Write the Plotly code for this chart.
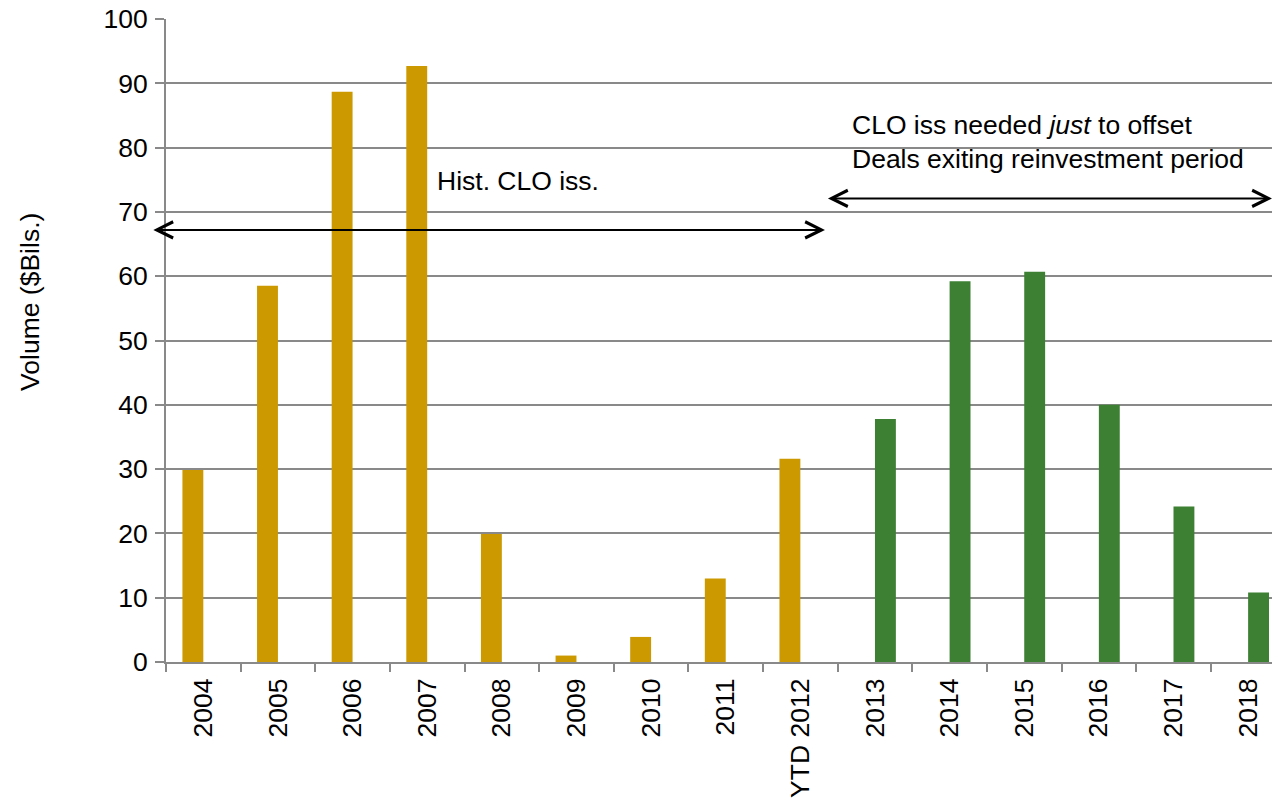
import plotly.graph_objects as go

# Annual CLO issuance volume, $ billions
years = ["2004", "2005", "2006", "2007", "2008", "2009", "2010", "2011", "YTD 2012",
         "2013", "2014", "2015", "2016", "2017", "2018"]
historical = [29.85, 58.5, 88.7, 92.7, 19.9, 1.0, 3.9, 13.0, 31.6,
              None, None, None, None, None, None]
needed = [None, None, None, None, None, None, None, None, None,
          37.8, 59.2, 60.7, 40.0, 24.2, 10.8]

FONT = "Arial, Liberation Sans, sans-serif"
FS = 26.5
GRID = "#898989"

fig = go.Figure()
fig.add_trace(go.Bar(x=years, y=historical, name="Hist. CLO iss.",
                     marker=dict(color="#CC9900", line=dict(width=0))))
fig.add_trace(go.Bar(x=years, y=needed, name="CLO iss needed",
                     marker=dict(color="#3D8033", line=dict(width=0))))

arrow = dict(text="", showarrow=True, xref="x", yref="y", axref="x", ayref="y",
             arrowhead=5, startarrowhead=5, arrowside="end+start",
             arrowsize=1.6, startarrowsize=1.6, arrowwidth=2, arrowcolor="#000000")

annotations = [
    dict(arrow, x=8.33, y=67.2, ax=-0.69, ay=67.2),
    dict(arrow, x=14.32, y=72.1, ax=8.35, ay=72.1),
    dict(text="Hist. CLO iss.", x=3.11, y=74.8, xref="x", yref="y",
         xanchor="left", yanchor="middle", showarrow=False,
         font=dict(family=FONT, size=FS, color="#000000")),
    dict(text="CLO iss needed <i>just</i> to offset<br>Deals exiting reinvestment period",
         x=8.67, y=80.9, xref="x", yref="y", xanchor="left", yanchor="middle",
         align="left", showarrow=False,
         font=dict(family=FONT, size=FS, color="#000000")),
    dict(text="Volume ($Bils.)", textangle=-90, xref="paper", yref="paper",
         x=-0.123, y=0.56, xanchor="center", yanchor="middle", showarrow=False,
         font=dict(family=FONT, size=FS, color="#000000")),
]

fig.update_layout(
    width=1272, height=798,
    margin=dict(l=166, r=0, t=19, b=136, pad=0),
    paper_bgcolor="white", plot_bgcolor="white",
    barmode="group", bargap=0.44, bargroupgap=0,
    showlegend=False,
    font=dict(family=FONT, size=FS, color="#000000"),
    annotations=annotations,
)
fig.update_xaxes(
    type="category", range=[-0.5, 14.32], tickangle=-90,
    showgrid=False, showline=True, linecolor=GRID, linewidth=2,
    ticks="outside", tickson="boundaries", ticklen=8, tickwidth=2, tickcolor=GRID,
    ticklabelstandoff=4,
    tickfont=dict(family=FONT, size=FS, color="#000000"),
)
fig.update_yaxes(
    range=[0, 100], dtick=10, showgrid=True, gridcolor=GRID, gridwidth=2,
    zeroline=False, showline=True, linecolor=GRID, linewidth=2,
    ticks="outside", ticklen=9, tickwidth=2, tickcolor=GRID,
    ticklabelstandoff=2,
    tickfont=dict(family=FONT, size=FS, color="#000000"),
)

fig.write_html("out.html")
